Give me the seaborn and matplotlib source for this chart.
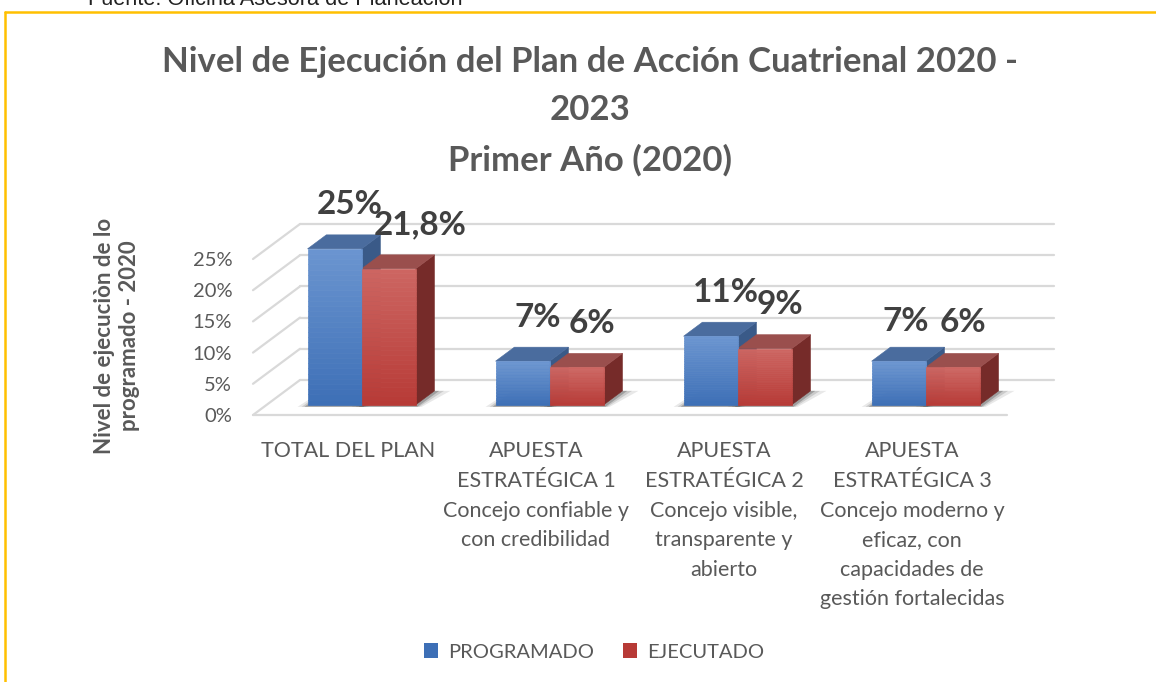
import numpy as np
import pandas as pd
import matplotlib
matplotlib.use("Agg")
import matplotlib.pyplot as plt
from matplotlib.patches import Polygon, Patch
from matplotlib.lines import Line2D
import seaborn as sns

# Values
CATEGORIES = [
    "TOTAL DEL PLAN",
    "APUESTA\nESTRATÉGICA 1\nConcejo confiable y\ncon credibilidad",
    "APUESTA\nESTRATÉGICA 2\nConcejo visible,\ntransparente y\nabierto",
    "APUESTA\nESTRATÉGICA 3\nConcejo moderno y\neficaz, con\ncapacidades de\ngestión fortalecidas",
]
SERIES = ["PROGRAMADO", "EJECUTADO"]
PROGRAMADO = [25, 7, 11, 7]
EJECUTADO = [21.8, 6, 9, 6]
Y_TICKS = [0, 5, 10, 15, 20, 25]
TITLE_LINES = ["Nivel de Ejecución del Plan de Acción Cuatrienal 2020 -", "2023",
               "Primer Año (2020)"]

W, H = 1156, 682
FONT = ["Lato", "DejaVu Sans"]
GREY = "#595959"
GRID = "#d9d9d9"

# 3D look (pixel offsets of the box depth)
DEPTH = np.array([47.0, 35.0])
BAR_FRONT, BAR_BACK = 0.29, 0.69

COLORS = {
    "PROGRAMADO": dict(top="#6b95d0", bottom="#3d6fb6", lid="#4a6c9e", side="#3a5a88"),
    "EJECUTADO": dict(top="#cd6662", bottom="#b73a36", lid="#9a4f4d", side="#762b29"),
}


def pct(v):
    return f"{v:g}".replace(".", ",") + "%"


def mix(c1, c2, t):
    a = np.array(matplotlib.colors.to_rgb(c1))
    b = np.array(matplotlib.colors.to_rgb(c2))
    return a + (b - a) * t


def to_px(ax, x, y):
    return ax.transData.transform((x, y))


def poly(ax, pts, color, z, alpha=1.0, lw=0.0):
    ax.add_patch(Polygon(pts, closed=True, facecolor=color, edgecolor=color, alpha=alpha,
                         lw=lw, transform=None, zorder=z, clip_on=False))


def line(ax, p, q):
    ax.add_line(Line2D([p[0], q[0]], [p[1], q[1]], color=GRID, lw=1.6,
                       transform=None, zorder=0, clip_on=False))


def draw_grid(ax):
    x0, x1 = ax.get_xlim()
    for v in Y_TICKS:
        f = to_px(ax, x0, v)
        line(ax, f, f + DEPTH)
        line(ax, f + DEPTH, to_px(ax, x1, v) + DEPTH)
    line(ax, to_px(ax, x0, 0), to_px(ax, x1, 0))


def draw_bars_3d(ax, patches, series_of_patch):
    front = DEPTH * BAR_FRONT
    back = DEPTH * BAR_BACK
    d = back - front
    # soft shadows on the floor
    for p in patches:
        x, w = p.get_x(), p.get_width()
        bl = to_px(ax, x, 0)
        br = to_px(ax, x + w, 0)
        for k, a in zip([10, 6, 3], [0.10, 0.15, 0.25]):
            pts = [bl + front + [-k, -2], br + front + [k * 0.6, -2],
                   br + back + [k * 1.6, 0], bl + back + [-k * 0.4, 0]]
            poly(ax, pts, "#202020", 1, alpha=a)
    for p, s in zip(patches, series_of_patch):
        c = COLORS[s]
        x, w, h = p.get_x(), p.get_width(), p.get_height()
        p.set_visible(False)
        bl = to_px(ax, x, 0) + front
        br = to_px(ax, x + w, 0) + front
        tl = to_px(ax, x, h) + front
        tr = to_px(ax, x + w, h) + front
        # side and top faces
        poly(ax, [br, tr, tr + d, br + d], c["side"], 2, lw=0.4)
        poly(ax, [tl, tr, tr + d, tl + d], c["lid"], 2, lw=0.4)
        # front face with a vertical gradient
        n = 30
        for i in range(n):
            t0, t1 = i / n, (i + 1) / n
            a0 = bl + (tl - bl) * t0
            a1 = bl + (tl - bl) * t1
            b0 = br + (tr - br) * t0
            b1 = br + (tr - br) * t1
            poly(ax, [a0, b0, b1, a1], mix(c["bottom"], c["top"], (t0 + t1) / 2), 3, lw=0.5)


def annotate_bars(ax, patches, values):
    base = DEPTH * BAR_FRONT + np.array([15, 44])
    nudges = {4: (17, 0), 3: (-8, -4), 7: (-5, 1)}
    for i, (p, v) in enumerate(zip(patches, values)):
        dx, dy = nudges.get(i, (0, 0))
        ax.annotate(pct(v), xy=(p.get_x() + p.get_width() / 2, p.get_height()),
                    xytext=(base[0] + dx, base[1] + dy), textcoords="offset pixels",
                    ha="center", va="center", fontsize=24, fontweight="bold",
                    color="#404040", family=FONT, zorder=5, annotation_clip=False)


def main():
    df = pd.DataFrame({
        "categoria": CATEGORIES * 2,
        "serie": [SERIES[0]] * 4 + [SERIES[1]] * 4,
        "valor": PROGRAMADO + EJECUTADO,
    })

    sns.set_style("white")
    plt.rcParams["font.family"] = FONT

    fig = plt.figure(figsize=(W / 100, H / 100), dpi=100)
    fig.set_facecolor("white")
    ax = fig.add_axes([253 / W, (H - 415) / H, (1007 - 253) / W, (415 - 259) / H])
    sns.barplot(data=df, x="categoria", y="valor", hue="serie", hue_order=SERIES,
                palette=[COLORS[s]["bottom"] for s in SERIES], width=0.575,
                gap=0, legend=False, ax=ax)
    ax.set_xlim(-0.505, 3.505)
    ax.set_ylim(0, 25)
    ax.set_xlabel("")
    ax.set_ylabel("")
    sns.despine(ax=ax, left=True, bottom=True)
    ax.set_yticks(Y_TICKS)
    ax.set_yticklabels([pct(v) for v in Y_TICKS])
    ax.tick_params(axis="y", length=0, pad=15, labelsize=14.5, labelcolor=GREY)
    ax.tick_params(axis="x", length=0, pad=19, labelsize=15.5, labelcolor=GREY)
    for t in ax.get_xticklabels():
        t.set_linespacing(1.6)
        t.set_va("top")

    patches = list(ax.patches)[:8]
    series_of_patch = [SERIES[0]] * 4 + [SERIES[1]] * 4
    values = PROGRAMADO + EJECUTADO

    draw_grid(ax)
    draw_bars_3d(ax, patches, series_of_patch)
    annotate_bars(ax, patches, values)

    # title, one text per line to keep the original spacing
    for txt, yc in zip(TITLE_LINES, [62, 110, 160]):
        fig.text(590 / W, 1 - yc / H, txt, ha="center", va="center", fontsize=25,
                 fontweight="bold", color=GREY)
    fig.text(117 / W, 1 - 336 / H, "Nivel de ejecuciòn de lo\nprogramado - 2020",
             rotation=90, ha="center", va="center", fontsize=16, fontweight="bold",
             color=GREY, linespacing=1.2)

    # legend
    handles = [Patch(facecolor=COLORS[s]["bottom"], edgecolor="none") for s in SERIES]
    leg = fig.legend(handles, SERIES, loc="center", bbox_to_anchor=(594 / W, 1 - 652 / H),
                     ncol=2, frameon=False, fontsize=14.5, handlelength=0.7,
                     handleheight=0.7, columnspacing=1.4, handletextpad=0.5)
    for t in leg.get_texts():
        t.set_color(GREY)

    # source line cut by the top edge, and the frame
    fig.text(88 / W, 1 - 5 / H, "Fuente: Oficina Asesora de Planeación", ha="left",
             va="baseline", fontsize=15.7, color="#222222", family="Liberation Sans")
    fig.add_artist(Line2D([5 / W, 1], [1 - 12 / H, 1 - 12 / H], color="#ffc000", lw=1.8))
    fig.add_artist(Line2D([5 / W, 5 / W], [0, 1 - 12 / H], color="#ffc000", lw=1.8))

    fig.savefig("out.png", dpi=100)


if __name__ == "__main__":
    main()
